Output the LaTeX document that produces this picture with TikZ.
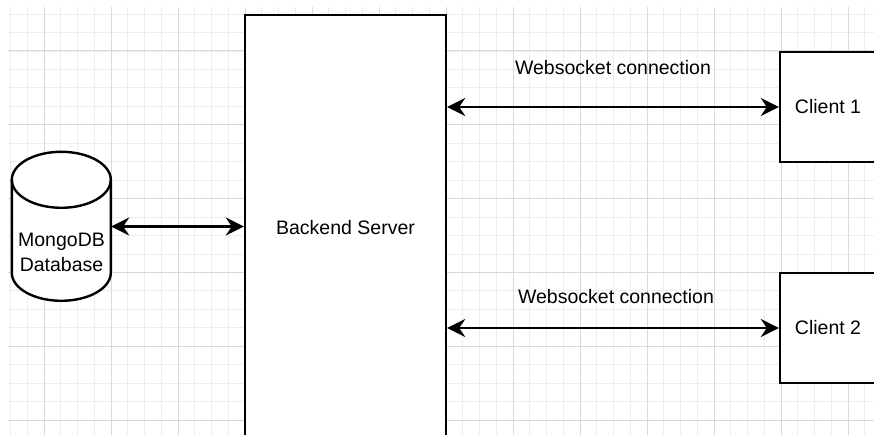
\documentclass[tikz,border=0pt]{standalone}
\usepackage{fontspec}
\setmainfont{Liberation Sans}
\usetikzlibrary{arrows.meta}
\usetikzlibrary{positioning}

\tikzset{
  box/.style={rectangle, draw, fill=white, line width=2.4pt, inner sep=0},
  store/.style={draw, fill=white, line width=2.4pt},
  link/.style={line width=2.4pt,
    {Stealth[length=18pt,width=18pt,inset=6pt]}-{Stealth[length=18pt,width=18pt,inset=6pt]}},
  caption/.style={inner sep=0},
  gridminor/.style={draw=black!7, line width=0.8pt},
  gridmajor/.style={draw=black!15, line width=1pt},
}

\begin{document}
\begin{tikzpicture}[x=1pt, y=-1pt, every node/.style={font=\fontsize{19.5}{23}\selectfont}]
        \useasboundingbox (0,0) rectangle (874,435);
        \clip (0,0) rectangle (874,435);
        % grid
        \foreach \i in {0,...,51}
            \draw[gridminor] ({10.5+16.75*\i},7) -- ({10.5+16.75*\i},435);
        \foreach \j in {0,...,23}
            \draw[gridminor] (8,{14.1+18.45*\j}) -- (874,{14.1+18.45*\j});
        \foreach \i in {0,...,12}
            \draw[gridmajor] ({44+67*\i},7) -- ({44+67*\i},435);
        \foreach \j in {0,...,5}
            \draw[gridmajor] (8,{51+73.8*\j}) -- (874,{51+73.8*\j});
        % boxes
        \node[box, minimum width=201pt, minimum height=426pt] (server) at (345.5,228) {Backend Server};
        \node[box, minimum width=96pt, minimum height=110pt] (client1) at (828,107) {Client 1};
        \node[box, minimum width=96pt, minimum height=110pt] (client2) at (828,328) {Client 2};
        % database cylinder
        \node[inner sep=0, minimum width=99pt, minimum height=149pt] (db) at (61.5,226.5) {};
        \draw[store] (db.north west) ++(0,28) -- ++(0,93)
            arc[start angle=180, end angle=0, x radius=49.5, y radius=28] -- ++(0,-93)
            arc[start angle=0, end angle=-180, x radius=49.5, y radius=28] -- cycle;
        \draw[store, fill=none] (db.north west) ++(0,28)
            arc[start angle=180, end angle=0, x radius=49.5, y radius=28];
        \node[caption, align=center, font=\fontsize{19.5}{25}\selectfont] (dbname) at (61.5,252) {MongoDB\\Database};
        % connections
        \draw[link] (db.east) -- (server.west |- db.east);
        \draw[link] (server.east |- client1.west) -- (client1.west)
            node[caption, midway, above=31pt] {Websocket connection};
        \draw[link] (server.east |- client2.west) -- (client2.west)
            node[caption, midway, above=23pt, xshift=3pt] {Websocket connection};
\end{tikzpicture}
\end{document}
